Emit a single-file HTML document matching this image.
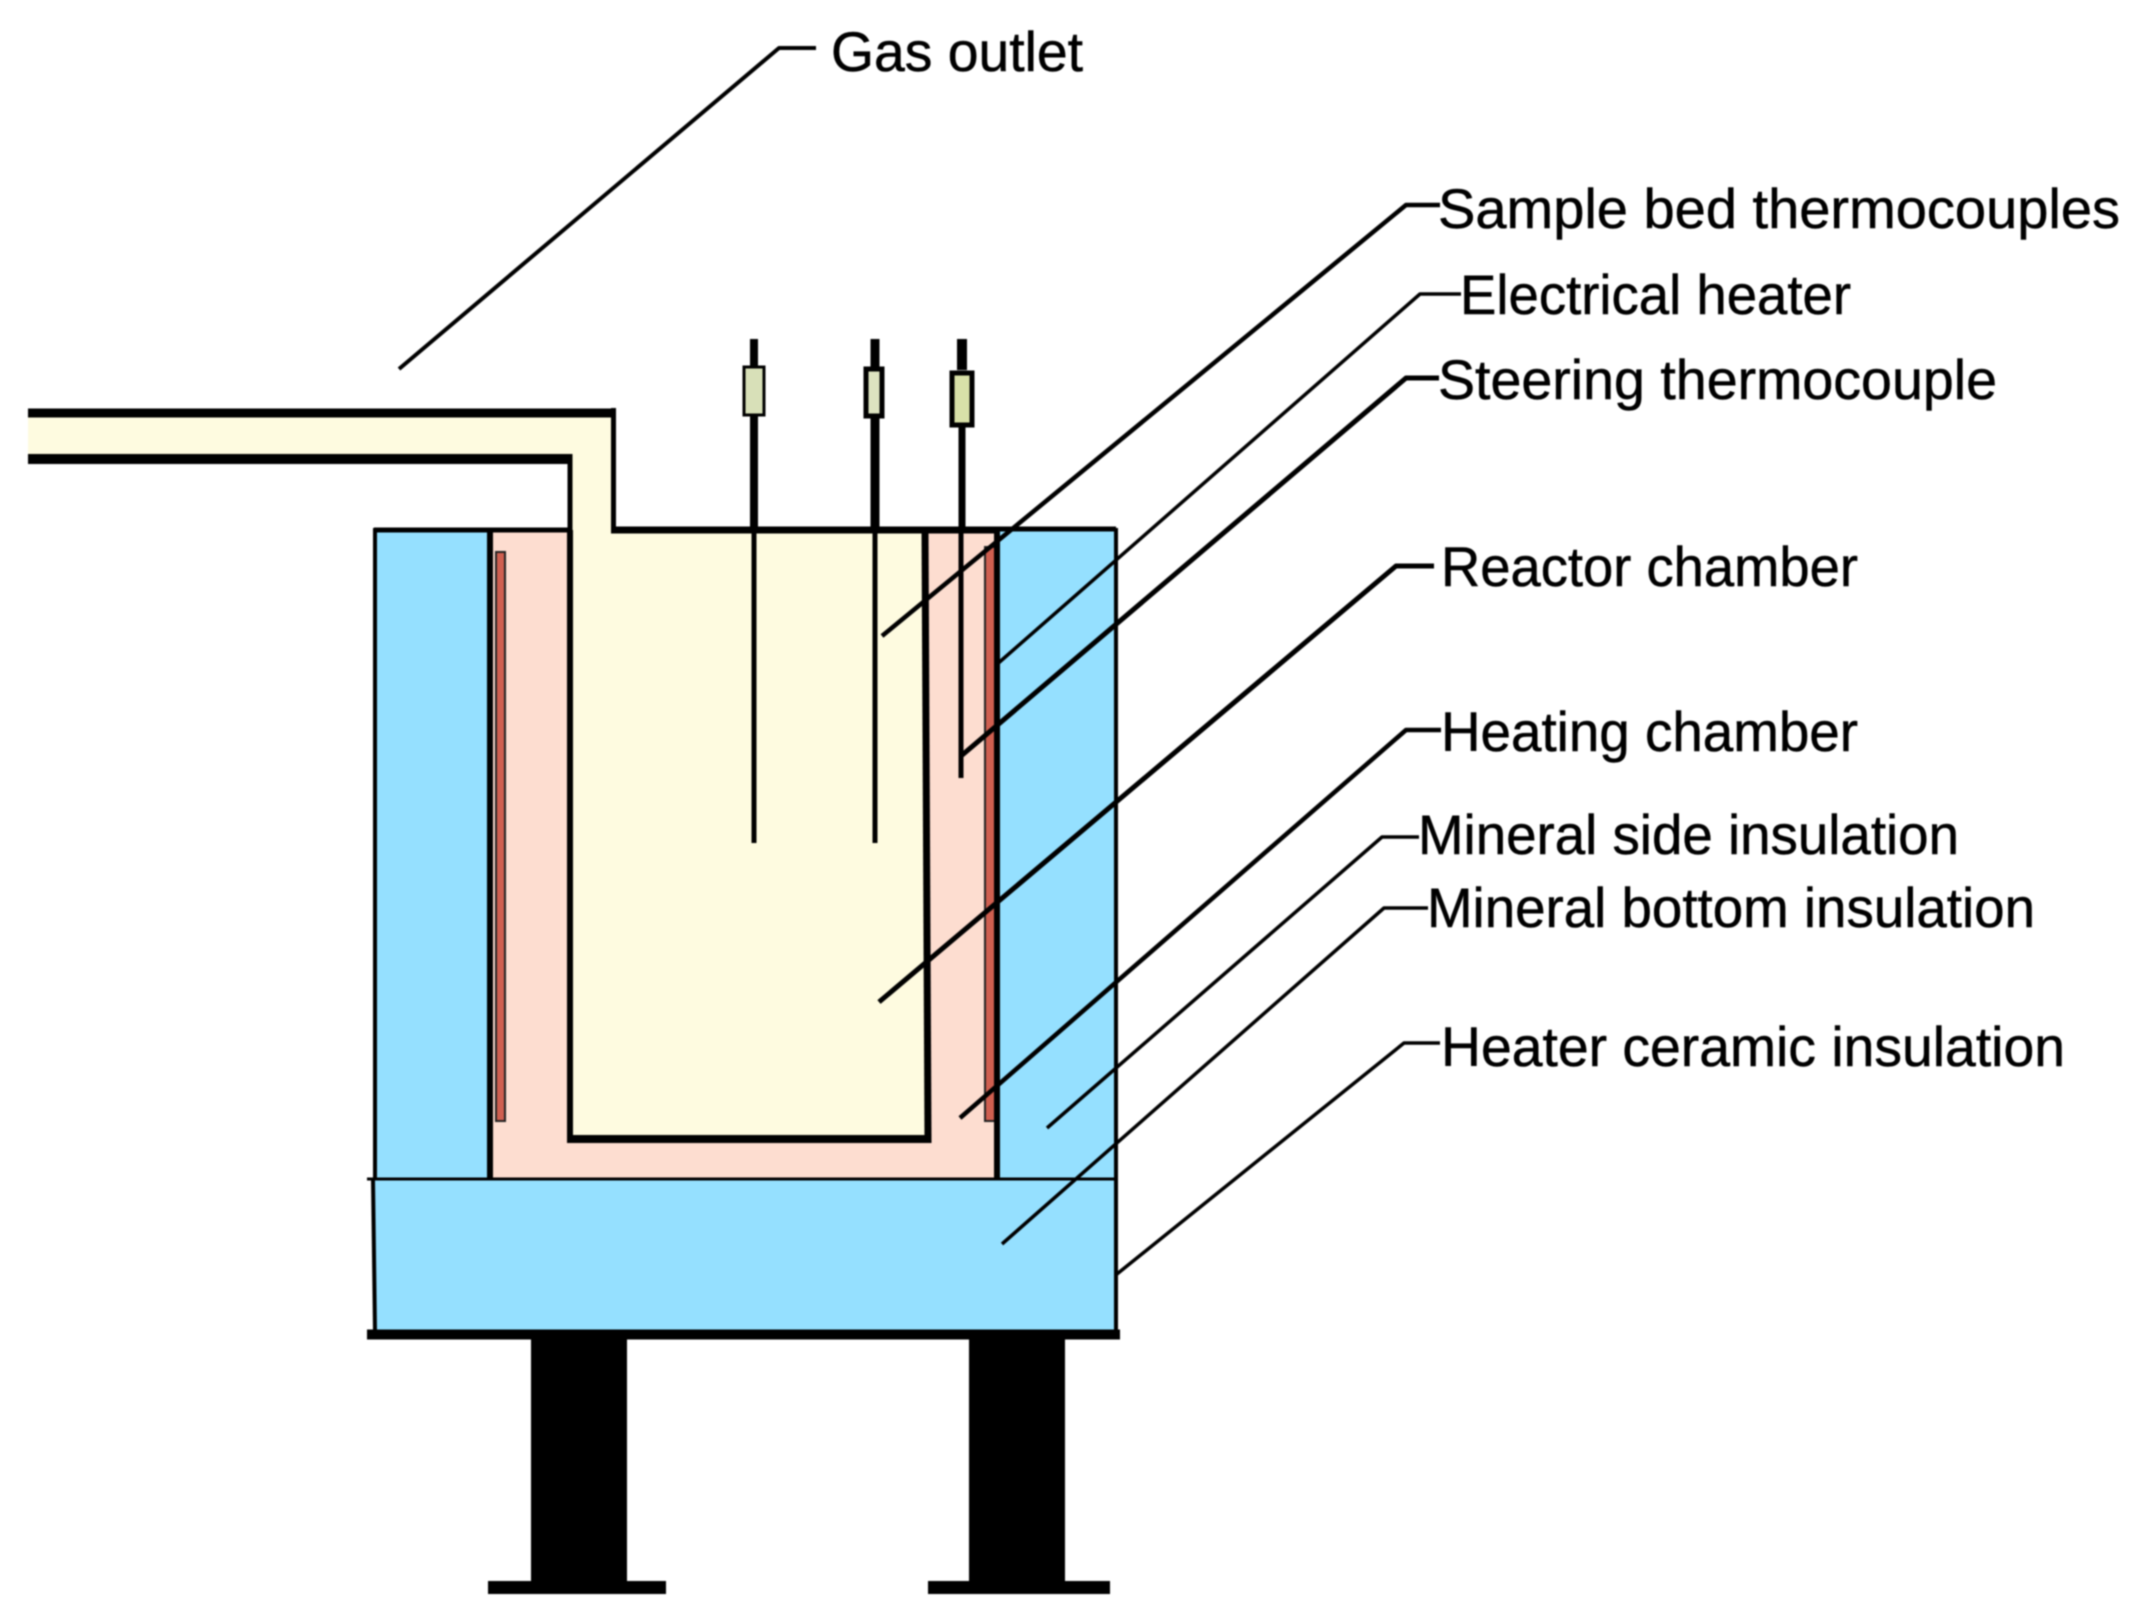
<!DOCTYPE html>
<html>
<head>
<meta charset="utf-8">
<style>
html,body{margin:0;padding:0;background:#fff;width:2144px;height:1621px;overflow:hidden}
svg{display:block;filter:blur(0.7px)}
text{font-family:"Liberation Sans",sans-serif;font-size:56px;fill:#000;stroke:#000;stroke-width:0.5px}
</style>
</head>
<body>
<svg width="2144" height="1621" viewBox="0 0 2144 1621" xmlns="http://www.w3.org/2000/svg">
<rect width="2144" height="1621" fill="#fff"/>

<!-- fills -->
<rect x="376" y="530" width="116" height="650" fill="#95E0FF"/>
<rect x="998" y="530" width="118" height="650" fill="#95E0FF"/>
<rect x="488" y="530" width="512" height="650" fill="#FDDDD0"/>
<rect x="375" y="1180" width="741" height="152" fill="#95E0FF"/>
<polygon points="28,413 614,413 614,530 924,530 927,1140 571,1140 569,459 28,459" fill="#FEFBE0"/>

<!-- heaters -->
<rect x="496" y="552" width="9" height="569" fill="#CF5F50" stroke="#222" stroke-width="2"/>
<rect x="985" y="547" width="10" height="574" fill="#CF5F50" stroke="#222" stroke-width="2"/>

<!-- walls -->
<g stroke="#000" fill="none" stroke-linecap="butt">
  <path d="M28,413H616" stroke-width="9"/>
  <path d="M28,459H572" stroke-width="10"/>
  <path d="M613.5,408V533" stroke-width="5"/>
  <path d="M570,454V530" stroke-width="5"/>
  <path d="M374,530H571" stroke-width="5"/>
  <path d="M611,530H1000" stroke-width="7"/>
  <path d="M1000,529H1116" stroke-width="5"/>
  <path d="M375,528V1180" stroke-width="4"/>
  <path d="M1116,528V1336" stroke-width="4"/>
  <path d="M490,528V1180" stroke-width="6"/>
  <path d="M997,528L997,1180" stroke-width="6"/>
  <path d="M570,530V1143" stroke-width="6"/>
  <path d="M925,530L928,1143" stroke-width="7"/>
  <path d="M567,1139H930" stroke-width="8"/>
  <path d="M367,1179H1116" stroke-width="3"/>
  <path d="M373,1180L375,1332" stroke-width="4"/>
  <path d="M367,1334.5H1120" stroke-width="10"/>
</g>

<!-- legs -->
<rect x="531" y="1334" width="96" height="250" fill="#000"/>
<rect x="969" y="1334" width="96" height="250" fill="#000"/>
<rect x="488" y="1581" width="178" height="13" fill="#000"/>
<rect x="928" y="1581" width="182" height="13" fill="#000"/>

<!-- probes -->
<g stroke="#000" fill="none">
  <path d="M754,339V530" stroke-width="8"/>
  <path d="M754,530V843" stroke-width="5"/>
  <path d="M875,339V530" stroke-width="9"/>
  <path d="M875,530V843" stroke-width="5"/>
  <path d="M962,339V370" stroke-width="10"/>
  <path d="M962,420V530" stroke-width="7"/>
  <path d="M961,530V778" stroke-width="5"/>
</g>
<rect x="744" y="367" width="20" height="48" fill="#D8E0B8" stroke="#000" stroke-width="3"/>
<rect x="866" y="369" width="16" height="47" fill="#DDE3C0" stroke="#000" stroke-width="5"/>
<rect x="952" y="373" width="20" height="52" fill="#D8E0A8" stroke="#000" stroke-width="5"/>

<!-- leaders -->
<g stroke="#000" fill="none" stroke-linejoin="round">
  <path d="M399,369L779,48H816" stroke-width="4"/>
  <path d="M882,636L1406,205H1440" stroke-width="4.5"/>
  <path d="M995,666L1420,294H1461" stroke-width="3.5"/>
  <path d="M961,756L1406,378H1439" stroke-width="5"/>
  <path d="M879,1002L1396,566H1434" stroke-width="5"/>
  <path d="M960,1118L1406,730H1441" stroke-width="4.5"/>
  <path d="M1047,1128L1382,837H1419" stroke-width="3.5"/>
  <path d="M1002,1244L1384,908H1428" stroke-width="3.5"/>
  <path d="M1117,1274L1404,1043H1440" stroke-width="3.5"/>
</g>

<!-- labels -->
<text x="1" y="-999" font-size="1"></text>
<text x="831" y="71" textLength="252" lengthAdjust="spacingAndGlyphs">Gas outlet</text>
<text x="1438" y="228" textLength="682" lengthAdjust="spacingAndGlyphs">Sample bed thermocouples</text>
<text x="1460" y="314" textLength="391" lengthAdjust="spacingAndGlyphs">Electrical heater</text>
<text x="1438" y="399" textLength="559" lengthAdjust="spacingAndGlyphs">Steering thermocouple</text>
<text x="1441" y="586" textLength="417" lengthAdjust="spacingAndGlyphs">Reactor chamber</text>
<text x="1441" y="751" textLength="417" lengthAdjust="spacingAndGlyphs">Heating chamber</text>
<text x="1418" y="854" textLength="541" lengthAdjust="spacingAndGlyphs">Mineral side insulation</text>
<text x="1427" y="927" textLength="608" lengthAdjust="spacingAndGlyphs">Mineral bottom insulation</text>
<text x="1441" y="1066" textLength="624" lengthAdjust="spacingAndGlyphs">Heater ceramic insulation</text>
</svg>
</body>
</html>
